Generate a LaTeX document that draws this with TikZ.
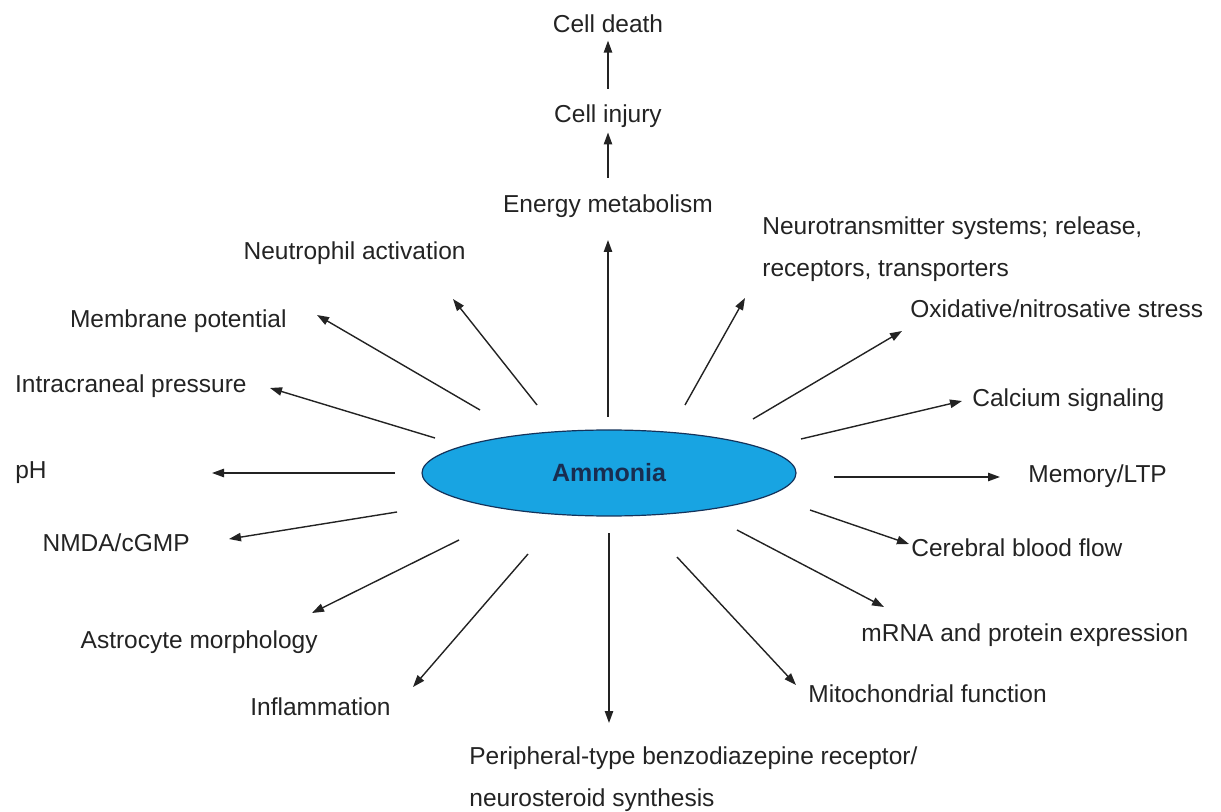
\documentclass[tikz,border=0pt]{standalone}
\usepackage{fontspec}
\setmainfont{Liberation Sans}
\usetikzlibrary{arrows.meta,shapes.geometric}
\definecolor{ammblue}{RGB}{24,164,226}
\definecolor{ammline}{RGB}{20,50,90}
\definecolor{ammtext}{RGB}{25,45,80}
\definecolor{txt}{RGB}{35,35,35}

\begin{document}
\begin{tikzpicture}[
  x=0.5pt, y=-0.5pt,
  lbl/.style={inner sep=0pt, text=txt, font=\fontsize{12.25}{21}\selectfont},
  lblL/.style={lbl, anchor=base east},
  lblR/.style={lbl, anchor=base west, align=left},
  arrow/.style={-{Triangle[length=6pt,width=4.2pt]}, line width=0.7pt, draw=txt, fill=txt},
]
  \useasboundingbox (0,0) rectangle (1221,812);
  \node[ellipse, draw=ammline, line width=0.6pt, fill=ammblue, minimum width=187pt, minimum height=43pt,
        inner sep=0pt, text=ammtext, font=\fontsize{12.5}{15}\selectfont\bfseries] (ammonia) at (609,473) {Ammonia};

  % upward chain
  \node[lbl, anchor=base] (energy) at (608,213) {Energy metabolism};
  \node[lbl, anchor=base] (injury) at (608,123) {Cell injury};
  \node[lbl, anchor=base] (death) at (608,33) {Cell death};

  % left side
  \node[lblL] (neutro) at (466,260) {Neutrophil activation};
  \node[lblL] (membrane) at (287,328) {Membrane potential};
  \node[lblL] (icp) at (247,393) {Intracraneal pressure};
  \node[lblL] (ph) at (47,479) {pH};
  \node[lblL] (nmda) at (190,552) {NMDA/cGMP};
  \node[lblL] (astro) at (318,648) {Astrocyte morphology};
  \node[lblL] (inflam) at (391,715) {Inflammation};

  % right side
  \node[lblR] (neurotr) at (762,277) {Neurotransmitter systems; release,\\receptors, transporters};
  \node[lblR] (oxid) at (910,318) {Oxidative/nitrosative stress};
  \node[lblR] (calcium) at (972,407) {Calcium signaling};
  \node[lblR] (memory) at (1028,482) {Memory/LTP};
  \node[lblR] (cbf) at (911,556) {Cerebral blood flow};
  \node[lblR] (mrna) at (861,641) {mRNA and protein expression};
  \node[lblR] (mito) at (808,702) {Mitochondrial function};
  \node[lblR] (pbr) at (469,806) {Peripheral-type benzodiazepine receptor/\\neurosteroid synthesis};

  % arrow ends
  \path (608,417) coordinate (energyS) (608,240) coordinate (energyT);
  \path (537,405) coordinate (neutroS) (453,299) coordinate (neutroT);
  \path (480,410) coordinate (membraneS) (317,315) coordinate (membraneT);
  \path (435,438) coordinate (icpS) (270,388) coordinate (icpT);
  \path (395,473) coordinate (phS) (212,473) coordinate (phT);
  \path (397,512) coordinate (nmdaS) (229,539) coordinate (nmdaT);
  \path (459,540) coordinate (astroS) (312,613) coordinate (astroT);
  \path (528,554) coordinate (inflamS) (413,687) coordinate (inflamT);
  \path (609,533) coordinate (pbrS) (609,723) coordinate (pbrT);
  \path (677,557) coordinate (mitoS) (796,685) coordinate (mitoT);
  \path (737,530) coordinate (mrnaS) (884,607) coordinate (mrnaT);
  \path (810,510) coordinate (cbfS) (909,544) coordinate (cbfT);
  \path (834,477) coordinate (memoryS) (1000,477) coordinate (memoryT);
  \path (801,439) coordinate (calciumS) (962,401) coordinate (calciumT);
  \path (753,419) coordinate (oxidS) (902,331) coordinate (oxidT);
  \path (685,405) coordinate (neurotrS) (745,298) coordinate (neurotrT);

  \draw[arrow, shorten <=8.5pt, shorten >=2pt] (energy) -- (injury);
  \draw[arrow, shorten <=8pt, shorten >=3.5pt] (injury) -- (death);
  \draw[arrow] (energyS) -- (energyT);
  \draw[arrow] (neutroS) -- (neutroT);
  \draw[arrow] (membraneS) -- (membraneT);
  \draw[arrow] (icpS) -- (icpT);
  \draw[arrow] (phS) -- (phT);
  \draw[arrow] (nmdaS) -- (nmdaT);
  \draw[arrow] (astroS) -- (astroT);
  \draw[arrow] (inflamS) -- (inflamT);
  \draw[arrow] (pbrS) -- (pbrT);
  \draw[arrow] (mitoS) -- (mitoT);
  \draw[arrow] (mrnaS) -- (mrnaT);
  \draw[arrow] (cbfS) -- (cbfT);
  \draw[arrow] (memoryS) -- (memoryT);
  \draw[arrow] (calciumS) -- (calciumT);
  \draw[arrow] (oxidS) -- (oxidT);
  \draw[arrow] (neurotrS) -- (neurotrT);
\end{tikzpicture}
\end{document}
